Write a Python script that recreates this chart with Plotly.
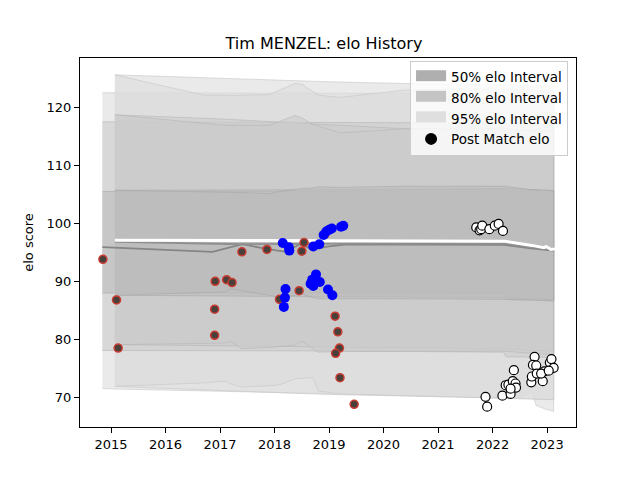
import plotly.graph_objects as go

# post match elo points (decimal year, elo)
red_x = [2014.85, 2015.10, 2015.13, 2016.90, 2016.90, 2016.91, 2017.12, 2017.22, 2017.40,
         2017.86, 2018.09, 2018.45, 2018.50, 2018.54, 2018.92, 2019.11, 2019.16, 2019.19,
         2019.12, 2019.20, 2019.46]
red_y = [93.8, 86.8, 78.5, 80.7, 85.2, 90.0, 90.3, 89.8, 95.1,
         95.5, 86.9, 88.4, 95.2, 96.7, 98.1, 84.0, 81.3, 78.5,
         77.6, 73.4, 68.8]

blue_x = [2018.15, 2018.26, 2018.27, 2018.20, 2018.19, 2018.17, 2018.69, 2018.76, 2018.83,
          2018.66, 2018.71, 2018.98, 2019.06, 2018.71, 2018.82, 2018.90, 2018.95, 2019.00,
          2019.05, 2019.22, 2019.26]
blue_y = [96.6, 95.9, 95.3, 88.7, 87.2, 85.6, 90.3, 91.2, 89.9,
          89.6, 89.2, 88.6, 87.6, 96.0, 96.4, 98.0, 98.6, 98.9,
          99.1, 99.4, 99.6]

white_x = [2021.70, 2021.76, 2021.79, 2021.81, 2021.94, 2022.04, 2022.11, 2022.19,
           2021.87, 2021.90, 2022.18, 2022.24, 2022.29, 2022.33, 2022.37, 2022.39, 2022.42,
           2022.43, 2022.33, 2022.71, 2022.72, 2022.77, 2022.74, 2022.80, 2022.81, 2022.92,
           2022.95, 2022.89, 2023.05, 2023.08, 2023.12, 2023.03]
white_y = [99.3, 98.8, 99.0, 99.6, 99.0, 99.6, 99.9, 98.7,
           70.1, 68.4, 70.3, 72.1, 72.2, 70.6, 72.8, 74.7, 72.4,
           71.7, 71.5, 72.6, 73.6, 77.0, 75.6, 75.5, 74.1, 72.8,
           74.5, 74.1, 76.0, 76.6, 75.1, 74.6]

# interval set A
a_x = [2014.84, 2019.20, 2022.20, 2022.25, 2022.50, 2022.72, 2022.80, 2022.96, 2023.12]
a_hi95 = [122.5, 122.5, 122.4, 122.4, 122.3, 122.3, 122.2, 122.2, 122.1]
a_hi80 = [117.5, 117.4, 117.3, 117.2, 117.2, 117.1, 117.1, 117.0, 117.0]
a_hi50 = [105.5, 105.5, 105.9, 105.6, 105.4, 105.6, 105.8, 105.2, 105.6]
a_lo50 = [88.0, 88.0, 87.9, 86.9, 86.8, 86.8, 86.7, 86.7, 86.6]
a_lo80 = [78.1, 78.0, 77.8, 77.0, 77.0, 77.0, 76.9, 76.9, 76.9]
a_lo95 = [71.5, 70.6, 70.0, 70.0, 69.9, 70.9, 68.6, 68.0, 67.6]

# interval set B
b_x = [2015.07, 2017.00, 2019.00, 2020.40, 2022.20, 2022.70, 2023.12]
b_hi95 = [125.6, 125.0, 124.4, 124.1, 123.9, 123.7, 123.6]
b_hi80 = [118.7, 118.0, 117.0, 116.3, 116.2, 116.0, 115.9]
b_hi50 = [105.7, 105.7, 105.8, 105.9, 106.0, 105.8, 105.7]
b_lo50 = [87.6, 87.5, 87.4, 87.3, 87.2, 87.0, 86.9]
b_lo80 = [79.1, 78.9, 78.7, 78.5, 78.4, 78.1, 78.0]
b_lo95 = [71.9, 71.2, 70.5, 70.2, 69.9, 69.8, 69.6]

# interval set C
c_x = [2015.07, 2016.70, 2017.10, 2017.20, 2017.40, 2017.90, 2018.10, 2018.37,
       2018.50, 2018.70, 2018.80, 2019.20, 2020.40, 2022.20, 2022.70, 2023.12]
c_hi95 = [125.6, 122.1, 122.1, 122.0, 122.1, 122.2, 123.0, 124.1,
          124.0, 122.8, 122.1, 121.7, 123.0, 123.2, 123.0, 122.8]
c_hi80 = [118.7, 117.2, 116.9, 116.9, 116.9, 116.9, 117.6, 118.6,
          118.2, 117.0, 116.8, 115.6, 116.3, 116.3, 116.0, 115.8]
c_hi50 = [105.7, 105.5, 105.4, 105.4, 105.3, 105.1, 105.5, 105.8,
          106.0, 106.1, 106.3, 106.2, 106.4, 106.4, 105.8, 105.6]
c_lo50 = [87.6, 88.1, 88.2, 88.7, 88.3, 87.6, 87.3, 87.6,
          87.8, 87.2, 87.0, 87.0, 87.0, 86.9, 86.8, 86.7]
c_lo80 = [79.1, 79.3, 79.4, 79.6, 78.4, 78.6, 78.8, 79.0,
          79.7, 78.4, 77.8, 77.9, 78.0, 78.0, 77.6, 77.4]
c_lo95 = [71.9, 72.5, 72.8, 72.3, 71.8, 72.0, 72.2, 73.2,
          73.3, 73.4, 71.1, 70.6, 70.2, 69.8, 69.7, 69.6]

# mean elo lines
m1_x = [2014.84, 2016.86, 2017.41, 2017.85, 2018.21, 2018.46, 2018.71, 2018.96,
        2019.33, 2022.20, 2022.70, 2023.12]
m1_y = [95.9, 95.1, 96.4, 95.6, 95.1, 96.4, 95.5, 96.0, 96.4, 96.3, 95.7, 95.3]
m2_x = [2015.07, 2017.40, 2019.30, 2022.20, 2022.80, 2023.12]
m2_y = [96.8, 96.4, 96.5, 96.5, 95.8, 95.4]
m3_x = [2015.07, 2022.23, 2022.72, 2022.94, 2022.98, 2023.07, 2023.15]
m3_y = [97.1, 96.9, 96.2, 95.8, 96.0, 95.5, 95.6]

band_sets = [
    (a_x, a_lo95, a_hi95, a_lo80, a_hi80, a_lo50, a_hi50),
    (b_x, b_lo95, b_hi95, b_lo80, b_hi80, b_lo50, b_hi50),
    (c_x, c_lo95, c_hi95, c_lo80, c_hi80, c_lo50, c_hi50),
]

fill_colors = {
    95: "rgba(220,220,220,0.6)",
    80: "rgba(203,203,203,0.6)",
    50: "rgba(188,188,188,0.6)",
}
edge_colors = {
    95: "rgba(198,198,198,0.6)",
    80: "rgba(182,182,182,0.6)",
    50: "rgba(168,168,168,0.6)",
}

fig = go.Figure()

# draw all 95% layers first, then 80%, then 50%
for level, lo_i, hi_i in [(95, 1, 2), (80, 3, 4), (50, 5, 6)]:
    for s in band_sets:
        xs, lo, hi = s[0], s[lo_i], s[hi_i]
        fig.add_trace(go.Scatter(
            x=xs + xs[::-1], y=hi + lo[::-1],
            fill="toself", fillcolor=fill_colors[level],
            line=dict(color=edge_colors[level], width=1),
            mode="lines", hoverinfo="skip", showlegend=False))

fig.add_trace(go.Scatter(x=m1_x, y=m1_y, mode="lines",
                         line=dict(color="#858585", width=1.8), showlegend=False))
fig.add_trace(go.Scatter(x=m2_x, y=m2_y, mode="lines",
                         line=dict(color="#8f8f8f", width=1.8), showlegend=False))
fig.add_trace(go.Scatter(x=m3_x, y=m3_y, mode="lines",
                         line=dict(color="white", width=3), showlegend=False))

fig.add_trace(go.Scatter(x=red_x, y=red_y, mode="markers", showlegend=False,
                         marker=dict(size=8, color="#4a403b",
                                     line=dict(color="#cc3b30", width=1.5))))
fig.add_trace(go.Scatter(x=blue_x, y=blue_y, mode="markers", showlegend=False,
                         marker=dict(size=10, color="#0000ff", line=dict(width=0))))
fig.add_trace(go.Scatter(x=white_x, y=white_y, mode="markers", showlegend=False,
                         marker=dict(size=9, color="white",
                                     line=dict(color="black", width=1.2))))

# legend entries
for name, col in [("50% elo Interval", "#afafaf"), ("80% elo Interval", "#c4c4c4"),
                  ("95% elo Interval", "#dfdfdf")]:
    fig.add_trace(go.Scatter(x=[None], y=[None], mode="lines", fill="toself",
                             fillcolor=col, line=dict(color=col, width=10), name=name))
fig.add_trace(go.Scatter(x=[None], y=[None], mode="markers", name="Post Match elo",
                         marker=dict(size=12, color="black")))

axis_common = dict(showline=True, linecolor="black", linewidth=1, mirror=True,
                   ticks="outside", ticklen=5, tickcolor="black", showgrid=False,
                   zeroline=False, automargin=False,
                   tickfont=dict(size=13, color="black"))

# the page puts the figure 8px in from the top left corner
fig.update_layout(
    width=632, height=472,
    template="plotly_white",
    plot_bgcolor="white", paper_bgcolor="white",
    font=dict(family="DejaVu Sans", color="black"),
    title=dict(text="Tim MENZEL: elo History", x=0.5, xanchor="center",
               y=0.926, yanchor="middle", font=dict(size=16)),
    margin=dict(l=72, r=64, t=50, b=53),
    xaxis=dict(range=[2014.43, 2023.53], tickvals=list(range(2015, 2024)), **axis_common),
    yaxis=dict(range=[64.9, 128.5], tickvals=[70, 80, 90, 100, 110, 120],
               title=dict(text="elo score", font=dict(size=13), standoff=10), **axis_common),
    legend=dict(x=0.984, y=0.992, xanchor="right", yanchor="top",
                bgcolor="rgba(255,255,255,0.8)", bordercolor="#cccccc", borderwidth=1,
                font=dict(size=13.5), tracegroupgap=0),
)

fig.write_html("out.html")
